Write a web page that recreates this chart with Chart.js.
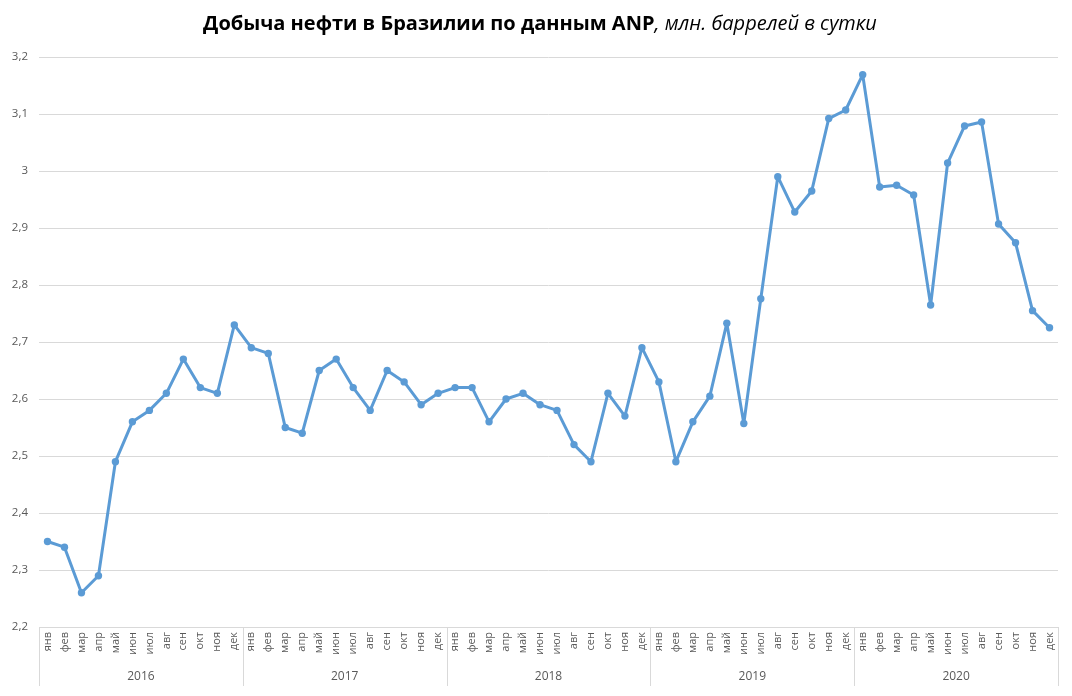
<!DOCTYPE html>
<html>
<head>
<meta charset="utf-8">
<script src="https://cdn.jsdelivr.net/npm/chart.js@4"></script>
<style>
  html, body { margin: 0; padding: 0; background: #fff; }
  #wrap { position: relative; width: 1072px; height: 696px; }
  #title {
    position: absolute; top: 9px; left: 0; width: 1080px; text-align: center;
    font-family: "Open Sans", sans-serif; font-size: 20px; color: #000; white-space: nowrap;
  }
  #title b { font-weight: 700; }
  #title i { font-style: italic; font-weight: 400; }
  canvas { position: absolute; top: 0; left: 0; }
</style>
</head>
<body>
<div id="wrap">
  <canvas id="chart" width="1072" height="696"></canvas>
  <div id="title"><b>Добыча нефти в Бразилии по данным ANP</b><i>, млн. баррелей в сутки</i></div>
</div>
<script>
const months = ['янв','фев','мар','апр','май','июн','июл','авг','сен','окт','ноя','дек'];
const years = ['2016','2017','2018','2019','2020'];

const output2016 = [2.35, 2.34, 2.26, 2.29, 2.49, 2.56, 2.58, 2.61, 2.67, 2.62, 2.61, 2.73];
const output2017 = [2.69, 2.68, 2.55, 2.54, 2.65, 2.67, 2.62, 2.58, 2.65, 2.63, 2.59, 2.61];
const output2018 = [2.62, 2.62, 2.56, 2.60, 2.61, 2.59, 2.58, 2.52, 2.49, 2.61, 2.57, 2.69];
const output2019 = [2.63, 2.49, 2.56, 2.605, 2.733, 2.557, 2.776, 2.99, 2.928, 2.965, 3.092, 3.107];
const output2020 = [3.169, 2.972, 2.975, 2.958, 2.765, 3.014, 3.079, 3.086, 2.907, 2.874, 2.755, 2.725];

const yMin = 2.2, yMax = 3.2, yStep = 0.1;

const labels = [];
years.forEach(() => months.forEach(m => labels.push(m)));
const values = [].concat(output2016, output2017, output2018, output2019, output2020);

const lineColor = '#5B9BD5';
const gridColor = '#d9d9d9';
const textColor = '#595959';

// year row under the month labels, with separators like Excel's multi-level axis
const yearAxis = {
    id: 'yearAxis',
    afterDraw(chart) {
        const ctx = chart.ctx;
        const x = chart.scales.x;
        const area = chart.chartArea;
        const per = months.length;
        ctx.save();
        ctx.strokeStyle = gridColor;
        ctx.lineWidth = 1;
        for (let k = 0; k <= years.length; k++) {
            let px;
            if (k === 0) px = area.left;
            else if (k === years.length) px = area.right;
            else px = (x.getPixelForValue(k * per - 1) + x.getPixelForValue(k * per)) / 2;
            px = Math.round(px) + 0.5;
            ctx.beginPath();
            ctx.moveTo(px, area.bottom);
            ctx.lineTo(px, 686);
            ctx.stroke();
        }
        ctx.fillStyle = textColor;
        ctx.font = '12px "Open Sans", sans-serif';
        ctx.textAlign = 'center';
        ctx.textBaseline = 'middle';
        years.forEach((yr, k) => {
            const cx = (x.getPixelForValue(k * per) + x.getPixelForValue(k * per + per - 1)) / 2;
            ctx.fillText(yr, cx, 677);
        });
        ctx.restore();
    }
};

new Chart(document.getElementById('chart').getContext('2d'), {
    type: 'line',
    data: {
        labels: labels,
        datasets: [{
            data: values,
            borderColor: lineColor,
            backgroundColor: lineColor,
            borderWidth: 3,
            borderJoinStyle: 'round',
            pointRadius: 3.7,
            pointBorderWidth: 0,
            pointBackgroundColor: lineColor,
            tension: 0
        }]
    },
    options: {
        responsive: false,
        animation: false,
        layout: { padding: { top: 57, right: 14, bottom: 0, left: 0 } },
        plugins: { legend: { display: false }, tooltip: { enabled: false }, title: { display: false } },
        scales: {
            x: {
                offset: true,
                afterFit: (s) => { s.height = 69; },
                grid: { display: false, drawTicks: false },
                border: { display: true, color: gridColor },
                ticks: {
                    autoSkip: false, maxRotation: 90, minRotation: 90, padding: 5,
                    color: textColor, font: { family: 'Open Sans', size: 11 }
                }
            },
            y: {
                min: yMin, max: yMax,
                afterFit: (s) => { s.width = 39; },
                grid: { color: gridColor, drawTicks: false },
                border: { display: false },
                ticks: {
                    stepSize: yStep, padding: 11, color: textColor,
                    font: { family: 'Open Sans', size: 11.5 },
                    callback: (v) => String(Number(v.toFixed(1))).replace('.', ',')
                }
            }
        }
    },
    plugins: [yearAxis]
});
</script>
</body>
</html>
